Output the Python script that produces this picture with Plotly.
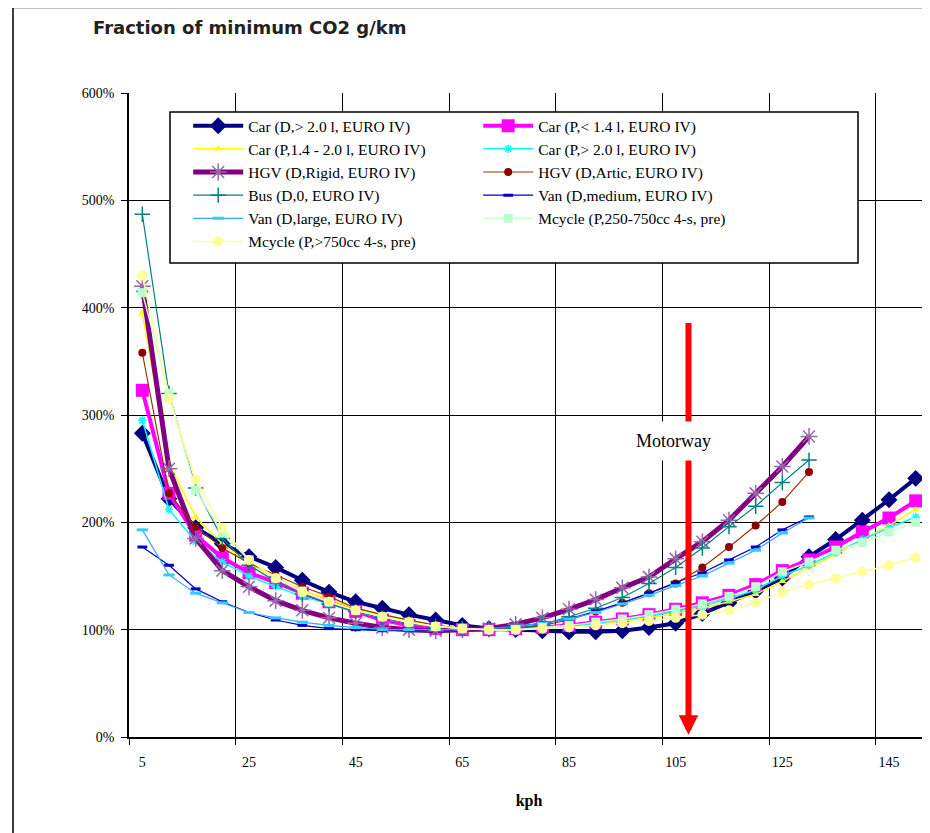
import plotly.graph_objects as go

kph = [5, 10, 15, 20, 25, 30, 35, 40, 45, 50, 55, 60, 65, 70, 75,
       80, 85, 90, 95, 100, 105, 110, 115, 120, 125, 130, 135, 140, 145, 150]

car_d_gt20 = [2.83, 2.22, 1.95, 1.80, 1.68, 1.58, 1.46, 1.35, 1.26, 1.20, 1.14, 1.09, 1.04, 1.01, 1.00,
              0.99, 0.98, 0.98, 0.99, 1.02, 1.06, 1.15, 1.25, 1.36, 1.48, 1.68, 1.84, 2.02, 2.21, 2.41]
car_p_lt14 = [3.23, 2.27, 1.88, 1.67, 1.53, 1.44, 1.34, 1.26, 1.17, 1.09, 1.04, 1.01, 1.00, 1.00, 1.01,
              1.02, 1.04, 1.07, 1.10, 1.14, 1.19, 1.25, 1.32, 1.42, 1.55, 1.65, 1.77, 1.91, 2.04, 2.20]
car_p_14_20 = [3.95, 2.55, 2.05, 1.80, 1.62, 1.48, 1.37, 1.28, 1.20, 1.13, 1.08, 1.04, 1.01, 1.00, 1.00,
               1.01, 1.03, 1.05, 1.08, 1.11, 1.15, 1.20, 1.26, 1.33, 1.45, 1.58, 1.70, 1.84, 1.97, 2.12]
car_p_gt20 = [2.95, 2.12, 1.82, 1.63, 1.50, 1.40, 1.31, 1.24, 1.17, 1.11, 1.06, 1.03, 1.01, 1.00, 1.00,
              1.01, 1.03, 1.06, 1.09, 1.13, 1.17, 1.22, 1.29, 1.37, 1.50, 1.60, 1.72, 1.84, 1.95, 2.05]
hgv_rigid = [4.20, 2.50, 1.85, 1.55, 1.40, 1.27, 1.18, 1.11, 1.06, 1.02, 1.00, 0.99, 1.00, 1.01, 1.05,
             1.11, 1.19, 1.28, 1.39, 1.49, 1.66, 1.82, 2.02, 2.27, 2.52, 2.80]
hgv_artic = [3.58, 2.27, 1.96, 1.76, 1.62, 1.51, 1.40, 1.31, 1.20, 1.14, 1.09, 1.04, 1.01, 1.00, 1.01,
             1.04, 1.09, 1.17, 1.25, 1.34, 1.43, 1.58, 1.77, 1.97, 2.19, 2.47]
bus = [4.87, 3.20, 2.32, 1.85, 1.60, 1.45, 1.33, 1.24, 1.17, 1.11, 1.06, 1.03, 1.01, 1.00, 1.01,
       1.05, 1.12, 1.20, 1.30, 1.43, 1.58, 1.76, 1.96, 2.15, 2.37, 2.58]
van_medium = [1.77, 1.60, 1.38, 1.26, 1.16, 1.09, 1.04, 1.01, 1.00, 0.99, 0.99, 1.00, 1.00, 1.01, 1.03,
              1.06, 1.10, 1.17, 1.25, 1.34, 1.44, 1.53, 1.65, 1.77, 1.93, 2.05]
van_large = [1.93, 1.51, 1.34, 1.25, 1.16, 1.11, 1.07, 1.04, 1.02, 1.00, 1.00, 1.00, 1.00, 1.01, 1.03,
             1.06, 1.10, 1.16, 1.24, 1.32, 1.41, 1.50, 1.62, 1.74, 1.90, 2.04]
mcycle_250_750 = [4.14, 3.20, 2.30, 1.90, 1.65, 1.48, 1.36, 1.26, 1.18, 1.12, 1.07, 1.03, 1.01, 1.00, 1.00,
                  1.02, 1.04, 1.07, 1.10, 1.14, 1.19, 1.24, 1.31, 1.40, 1.54, 1.63, 1.74, 1.81, 1.91, 2.00]
mcycle_gt750 = [4.30, 3.15, 2.40, 1.95, 1.65, 1.48, 1.35, 1.26, 1.18, 1.12, 1.07, 1.03, 1.01, 1.00, 1.00,
                1.01, 1.02, 1.04, 1.06, 1.08, 1.11, 1.14, 1.18, 1.25, 1.35, 1.42, 1.48, 1.54, 1.60, 1.67]

series_names = ["Car (D,> 2.0 l, EURO IV)", "Car (P,< 1.4 l, EURO IV)",
                "Car (P,1.4 - 2.0 l, EURO IV)", "Car (P,> 2.0 l, EURO IV)",
                "HGV (D,Rigid, EURO IV)", "HGV (D,Artic, EURO IV)",
                "Bus (D,0, EURO IV)", "Van (D,medium, EURO IV)",
                "Van (D,large, EURO IV)", "Mcycle (P,250-750cc 4-s, pre)",
                "Mcycle (P,>750cc 4-s, pre)"]

y_ticks = [0, 1, 2, 3, 4, 5, 6]
x_tick_labels = [5, 25, 45, 65, 85, 105, 125, 145]
x_grid = [2.5, 22.5, 42.5, 62.5, 82.5, 102.5, 122.5, 142.5]

title_text = "Fraction of minimum CO2 g/km"
x_title = "kph"
motorway_label = "Motorway"
motorway_kph = 107.4

series = [
    (car_d_gt20, dict(color="#000080", width=4), dict(symbol="diamond", size=13, color="#000080")),
    (car_p_lt14, dict(color="#FF00FF", width=4), dict(symbol="square", size=13, color="#FF00FF")),
    (car_p_14_20, dict(color="#FFFF00", width=1.5), dict(symbol="triangle-up", size=7, color="#FFFF00")),
    (car_p_gt20, dict(color="#00FFFF", width=1.5), dict(symbol="asterisk-open", size=7, color="#00FFFF",
                                                      line=dict(color="#00FFFF", width=1.5))),
    (hgv_rigid, dict(color="#800080", width=5), dict(symbol="asterisk-open", size=14, color="#9966AA",
                                                     line=dict(color="#8877AA", width=1.5))),
    (hgv_artic, dict(color="#993300", width=1.2), dict(symbol="circle", size=8, color="#8B0000")),
    (bus, dict(color="#008080", width=1.2), dict(symbol="cross-thin-open", size=11, color="#008080",
                                                 line=dict(color="#008080", width=1.5))),
    (van_medium, dict(color="#0000CC", width=1.2), dict(symbol="line-ew-open", size=7, color="#0000CC",
                                                        line=dict(color="#0000CC", width=3))),
    (van_large, dict(color="#33A8FF", width=1.2), dict(symbol="line-ew-open", size=8, color="#33CCFF",
                                                       line=dict(color="#33CCFF", width=3))),
    (mcycle_250_750, dict(color="#CCFFCC", width=1.5), dict(symbol="square", size=9, color="#BBFFCC")),
    (mcycle_gt750, dict(color="#FFFF99", width=1.5), dict(symbol="circle", size=10, color="#FFFF99")),
]

fig = go.Figure()
for name, (vals, line, marker) in zip(series_names, series):
    fig.add_trace(go.Scatter(
        x=kph[:len(vals)], y=vals, name=name, mode="lines+markers",
        line=line, marker=marker,
    ))

serif = "Liberation Serif, Times New Roman, serif"

# the page body has an 8px margin, so the figure is 8px smaller than the window
fig.update_layout(
    width=922, height=825,
    margin=dict(l=121, r=1, t=85, b=96),
    paper_bgcolor="white", plot_bgcolor="white",
    font=dict(family=serif, size=15, color="black"),
    showlegend=True,
    legend=dict(
        orientation="h", x=0.074, y=0.975, xanchor="left", yanchor="top",
        bgcolor="rgba(0,0,0,0)", borderwidth=0,
        font=dict(family=serif, size=15.5, color="black"),
        entrywidth=225, entrywidthmode="pixels", itemwidth=50,
        traceorder="normal", tracegroupgap=0,
    ),
    xaxis=dict(
        range=[2.5, 152.5], tickmode="array", tickvals=x_tick_labels,
        ticktext=[str(v) for v in x_tick_labels], ticks="", showgrid=False,
        zeroline=False, showline=True, linecolor="black", linewidth=1.5,
        ticklabelstandoff=11, tickfont=dict(family=serif, size=14),
        minor=dict(tickmode="array", tickvals=x_grid, showgrid=True, gridcolor="black",
                   gridwidth=1.2, ticks="outside", ticklen=6, tickcolor="black"),
        title=dict(text="<b>" + x_title + "</b>", font=dict(family=serif, size=16), standoff=26),
    ),
    yaxis=dict(
        range=[0, 6], tickmode="array", tickvals=y_ticks, tickformat=".0%",
        showgrid=True, gridcolor="black", gridwidth=1.2, zeroline=False,
        showline=True, linecolor="black", linewidth=1.5,
        ticks="outside", ticklen=6, tickcolor="black", ticklabelstandoff=4,
        tickfont=dict(family=serif, size=14),
    ),
    shapes=[
        dict(type="rect", xref="paper", yref="paper",
             x0=-0.145, x1=1.2, y0=-0.2, y1=1.1327,
             line=dict(color="black", width=1.5), fillcolor="rgba(0,0,0,0)", layer="below"),
        dict(type="rect", xref="paper", yref="paper",
             x0=0.05125, x1=0.91125, y0=0.736, y1=0.9705,
             line=dict(color="black", width=1.5), fillcolor="white", layer="above"),
    ],
    annotations=[
        dict(text="<b>" + title_text + "</b>", xref="paper", yref="paper",
             x=-0.0475, y=1.101, xanchor="left", yanchor="middle", showarrow=False,
             font=dict(family="DejaVu Sans, Arial, sans-serif", size=18, color="#222222")),
        dict(text="", x=motorway_kph, y=0.02, xref="x", yref="y",
             ax=motorway_kph, ay=3.87, axref="x", ayref="y", showarrow=True,
             arrowhead=2, arrowsize=0.65, arrowwidth=6, arrowcolor="#FF0000"),
        dict(text=motorway_label, x=104.5, y=2.76, xref="x", yref="y", showarrow=False,
             bgcolor="white", borderpad=9, font=dict(family=serif, size=18, color="black")),
    ],
)

fig.write_html("out.html")
